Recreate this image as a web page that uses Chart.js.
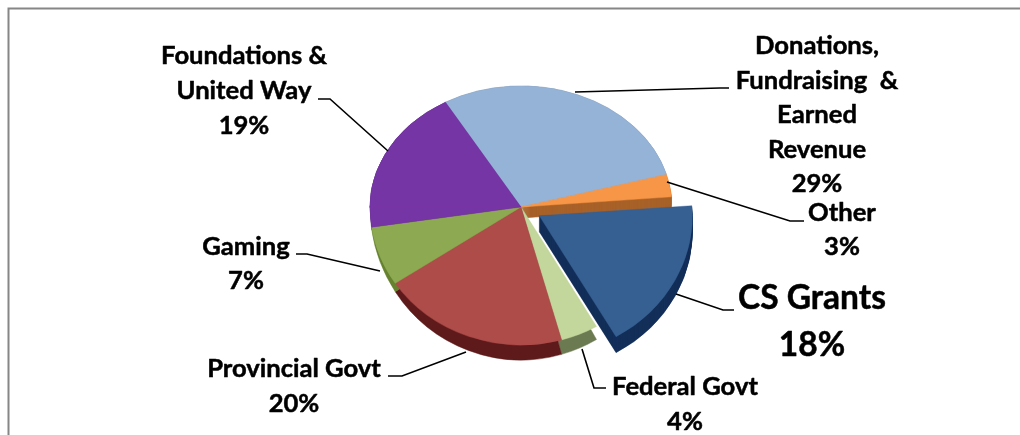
<!DOCTYPE html>
<html><head><meta charset="utf-8">
<script src="https://cdn.jsdelivr.net/npm/chart.js@4"></script>
<style>html,body{margin:0;padding:0;background:#fff}#w{position:relative;width:1020px;height:435px}canvas{display:block}</style>
</head><body><div id="w"><canvas id="c" width="1020" height="435"></canvas></div>
<script>
const categories = ["Donations, Fundraising & Earned Revenue","Other","CS Grants","Federal Govt","Provincial Govt","Gaming","Foundations & United Way"];
const shares = [29,3,18,4,20,7,19];
const labelLines = [["Donations,","Fundraising  &","Earned","Revenue"],["Other"],["CS Grants"],["Federal Govt"],["Provincial Govt"],["Gaming"],["Foundations &","United Way"]];
const topColors = ["#95B3D7","#F79646","#376092","#C3D69B","#AE4C4A","#8DAA52","#7635A5"];
const sideColors = ["#6F88A6","#A8622A","#14305A","#6C7A52","#5E1A1A","#66822F","#4F2470"];
const explode = [0,0,89,0,0,0,0];
const sideDrop = [0,11,16,0,0,0,0];
const labelCenters = [[817,46,34.5],[842,213,34],[812,298,47],[685,387,35],[294,369,35],[246,247,34],[244,56,35]];
const leaders = [
 [[575,92],[720,88],[729,88]],
 [[667,182],[790,221],[804,221]],
 [[676,294],[723,310],[734,310]],
 [[582,349],[594,388],[606,388]],
 [[466,352],[402,376],[388,376]],
 [[380,271],[307,254],[296,254]],
 [[388,151],[330,99],[318,99]]
];
const RX = 151, RY_UP = 121, RY_DOWN = 138, SIDE_STRETCH = 15;

let pieRadius = 1;
function drawArc(ctx, arc, depth, stretch, color, W, H){
  const o = (arc.options.offset||0)/4, R = pieRadius;
  const h = (arc.startAngle+arc.endAngle)/2;
  const sx = RX/R, up = RY_UP/R, dn = (RY_DOWN+stretch)/R;
  const ux = Math.cos(h)*o, uy = Math.sin(h)*o;
  const ax = arc.x + ux*sx, ay = arc.y + uy*(RY_DOWN/R) + depth;
  const proxy = Object.create(arc);
  Object.defineProperty(proxy,'options',{value:Object.assign({},arc.options,{backgroundColor:color,borderColor:color,borderWidth:0.5,offset:arc.options.offset})});
  [[0,ay+0.6,up],[ay-0.6,H-ay+0.6,dn]].forEach(([y,hh,s])=>{
    ctx.save();
    ctx.beginPath();ctx.rect(0,y,W,hh);ctx.clip();
    ctx.translate(ax,ay);ctx.scale(sx,s);ctx.translate(-(arc.x+ux),-(arc.y+uy));
    arc.draw.call(proxy,ctx);
    ctx.restore();
  });
}
const pie3d = {
  id:'pie3d',
  beforeDatasetsDraw(chart){
    const ctx = chart.ctx, arcs = chart.getDatasetMeta(0).data, W=chart.width, H=chart.height;
    pieRadius = Math.max(...arcs.map(a=>a.outerRadius));
    const sides = ex => arcs.forEach((a,i)=>{
      if((explode[i]>0)!==ex) return;
      if(sideDrop[i]>0){ for(let d=sideDrop[i];d>0;d--) drawArc(ctx,a,d,0,sideColors[i],W,H); }
      else drawArc(ctx,a,0,SIDE_STRETCH,sideColors[i],W,H);
    });
    const tops = ex => arcs.forEach((a,i)=>{ if((explode[i]>0)===ex) drawArc(ctx,a,0,0,topColors[i],W,H); });
    sides(false);tops(false);sides(true);tops(true);
    return false;
  },
  afterDraw(chart){
    const ctx = chart.ctx;
    ctx.save();
    ctx.strokeStyle='#868686';ctx.lineWidth=2;
    ctx.beginPath();ctx.moveTo(8.5,435);ctx.lineTo(8.5,8.5);ctx.lineTo(1020,8.5);ctx.stroke();
    ctx.strokeStyle='#000';ctx.lineWidth=1.6;
    leaders.forEach(l=>{ctx.beginPath();l.forEach((p,i)=>i?ctx.lineTo(p[0],p[1]):ctx.moveTo(p[0],p[1]));ctx.stroke();});
    ctx.fillStyle='#000';ctx.textAlign='center';ctx.textBaseline='middle';
    ctx.lineWidth=0.5;ctx.lineJoin='round';
    categories.forEach((c,i)=>{
      const big = c==="CS Grants";
      ctx.font=`bold ${big?33.5:25.6}px Lato`;
      const [x,y,lh]=labelCenters[i];
      [...labelLines[i],shares[i]+"%"].forEach((t,k)=>{ctx.fillText(t,x,y+k*lh);ctx.strokeText(t,x,y+k*lh);});
    });
    ctx.restore();
  }
};
new Chart(document.getElementById('c'),{
  type:'pie',
  data:{labels:categories,datasets:[{data:shares,backgroundColor:topColors,borderWidth:0,offset:explode}]},
  options:{responsive:false,animation:false,rotation:-30,
    layout:{padding:{left:22,bottom:21}},
    plugins:{legend:{display:false},tooltip:{enabled:false}}},
  plugins:[pie3d]
});
</script></body></html>
